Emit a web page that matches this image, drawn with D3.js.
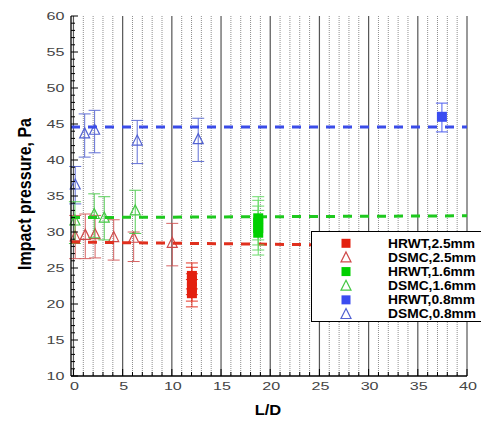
<!DOCTYPE html>
<html>
<head>
<meta charset="utf-8">
<script src="https://cdn.jsdelivr.net/npm/d3@7"></script>
<style>
  html, body { margin: 0; padding: 0; background: #fff; }
  svg { display: block; }
</style>
</head>
<body>
<div id="chart"></div>
<script>
// ---------- data ----------
const xTicks = [0, 5, 10, 15, 20, 25, 30, 35, 40];
const yTicks = [10, 15, 20, 25, 30, 35, 40, 45, 50, 55, 60];

// HRWT (filled squares)
const hrwt25X = [12.04, 12.04, 12.04, 12.04];
const hrwt25Y = [23.9, 23.2, 22.3, 21.5];
const hrwt25Lo = [22.1, 21.3, 20.4, 19.6];
const hrwt25Hi = [25.7, 25.1, 24.2, 23.4];

const hrwt16X = [18.78, 18.78, 18.78, 18.78];
const hrwt16Y = [31.9, 31.3, 30.55, 29.9];
const hrwt16Lo = [28.9, 28.2, 27.5, 26.8];
const hrwt16Hi = [34.9, 34.4, 33.6, 33.0];

const hrwt08X = [37.45];
const hrwt08Y = [46.0];
const hrwt08Lo = [43.9];
const hrwt08Hi = [47.9];

// DSMC (open triangles)
const dsmc25X = [0.18, 1.2, 2.2, 4.09, 6.12, 10.04];
const dsmc25Y = [29.4, 29.6, 29.7, 29.3, 29.2, 28.5];
const dsmc25Lo = [26.3, 26.3, 26.4, 26.1, 25.9, 25.3];
const dsmc25Hi = [32.3, 32.5, 32.3, 31.7, 30.0, 31.2];

const dsmc16X = [0.15, 2.11, 3.13, 6.28];
const dsmc16Y = [31.6, 32.5, 32.0, 33.0];
const dsmc16Lo = [28.4, 29.2, 28.9, 29.8];
const dsmc16Hi = [34.2, 35.3, 34.9, 35.8];

const dsmc08X = [0.18, 1.14, 2.15, 6.48, 12.68];
const dsmc08Y = [36.6, 43.7, 44.2, 42.7, 42.9];
const dsmc08Lo = [33.9, 40.4, 41.0, 39.5, 39.8];
const dsmc08Hi = [39.1, 46.4, 46.9, 45.5, 45.8];

// dashed mean lines: [value at x start, value at x end]
const lineX = [-0.25, 40];
const red25Line = [28.6, 28.0];
const green16Line = [32.0, 32.25];
const blue08Line = [44.6, 44.6];

const legendLabels = ["HRWT,2.5mm", "DSMC,2.5mm", "HRWT,1.6mm", "DSMC,1.6mm", "HRWT,0.8mm", "DSMC,0.8mm"];

// ---------- setup ----------
const W = 481, H = 421;
const svg = d3.select("#chart").append("svg").attr("width", W).attr("height", H);

const x = d3.scaleLinear().domain([-0.25, 40]).range([71, 467]);
const y = d3.scaleLinear().domain([10, 60]).range([376, 16]);

const C = {
  redH: "#e3200f", redD: "#cf4a4a", redL: "#e0301e",
  greenH: "#00d000", greenD: "#45c845", greenL: "#1ec81e",
  blueH: "#3a4cf0", blueD: "#5262d2", blueL: "#3a4ce8"
};

// ---------- grid ----------
const grid = svg.append("g");
const minor = d3.range(0, 41).filter(v => v % 5 !== 0);
grid.selectAll("line.minor").data(minor).enter().append("line")
  .attr("x1", d => x(d)).attr("x2", d => x(d))
  .attr("y1", y(60)).attr("y2", y(10))
  .attr("stroke", "#333").attr("stroke-width", 1).attr("stroke-dasharray", "1,1").attr("opacity", 0.55);
grid.selectAll("line.major").data(xTicks).enter().append("line")
  .attr("x1", d => x(d)).attr("x2", d => x(d))
  .attr("y1", y(60)).attr("y2", y(10))
  .attr("stroke", "#555").attr("stroke-width", 1.2);

// ---------- dashed lines ----------
function dashLine(vals, color) {
  svg.append("line")
    .attr("x1", x(lineX[0])).attr("x2", x(lineX[1]))
    .attr("y1", y(vals[0])).attr("y2", y(vals[1]))
    .attr("stroke", color).attr("stroke-width", 3).attr("stroke-dasharray", "9,8");
}

// ---------- error bars + markers ----------
function errBars(X, Lo, Hi, color, opacity) {
  const g = svg.append("g").attr("stroke", color).attr("stroke-width", 1).attr("opacity", opacity);
  X.forEach((xv, i) => {
    g.append("line").attr("x1", x(xv)).attr("x2", x(xv)).attr("y1", y(Lo[i])).attr("y2", y(Hi[i]));
    g.append("line").attr("x1", x(xv) - 6).attr("x2", x(xv) + 6).attr("y1", y(Lo[i])).attr("y2", y(Lo[i]));
    g.append("line").attr("x1", x(xv) - 6).attr("x2", x(xv) + 6).attr("y1", y(Hi[i])).attr("y2", y(Hi[i]));
  });
}
function squares(X, Y, color) {
  svg.append("g").selectAll("rect").data(X).enter().append("rect")
    .attr("x", (d) => x(d) - 5).attr("y", (d, i) => y(Y[i]) - 5)
    .attr("width", 10).attr("height", 10).attr("fill", color);
}
const triPath = (cx, cy, s) => `M${cx},${cy - s * 0.55}L${cx + s / 2},${cy + s * 0.45}L${cx - s / 2},${cy + s * 0.45}Z`;
function triangles(X, Y, color) {
  svg.append("g").selectAll("path").data(X).enter().append("path")
    .attr("d", (d, i) => triPath(x(d), y(Y[i]), 10))
    .attr("fill", "none").attr("stroke", color).attr("stroke-width", 1.2);
}

errBars(dsmc08X, dsmc08Lo, dsmc08Hi, C.blueD, 0.9);
triangles(dsmc08X, dsmc08Y, C.blueD);
errBars(dsmc25X, dsmc25Lo, dsmc25Hi, C.redD, 0.85);
triangles(dsmc25X, dsmc25Y, C.redD);
errBars(dsmc16X, dsmc16Lo, dsmc16Hi, C.greenD, 0.9);
triangles(dsmc16X, dsmc16Y, C.greenD);

dashLine(blue08Line, C.blueL);
dashLine(green16Line, C.greenL);
dashLine(red25Line, C.redL);

errBars(hrwt25X, hrwt25Lo, hrwt25Hi, C.redH, 0.9);
squares(hrwt25X, hrwt25Y, C.redH);
errBars(hrwt16X, hrwt16Lo, hrwt16Hi, "#5ad85a", 0.9);
squares(hrwt16X, hrwt16Y, C.greenH);
errBars(hrwt08X, hrwt08Lo, hrwt08Hi, C.blueH, 0.9);
squares(hrwt08X, hrwt08Y, C.blueH);

// ---------- axes ----------
const ax = svg.append("g");
ax.append("line").attr("x1", 71).attr("x2", 71).attr("y1", y(60)).attr("y2", y(10)).attr("stroke", "#000").attr("stroke-width", 1.3);
ax.append("line").attr("x1", 71).attr("x2", x(40)).attr("y1", y(10)).attr("y2", y(10)).attr("stroke", "#000").attr("stroke-width", 1.3);
// y ticks (inward)
const yAll = d3.range(10, 61);
ax.selectAll("line.yt").data(yAll).enter().append("line")
  .attr("x1", 71).attr("x2", d => 71 + (d % 5 === 0 ? 7 : 4))
  .attr("y1", d => y(d)).attr("y2", d => y(d))
  .attr("stroke", "#000").attr("stroke-width", 1);
// x ticks (inward)
ax.selectAll("line.xt").data(d3.range(0, 41)).enter().append("line")
  .attr("x1", d => x(d)).attr("x2", d => x(d))
  .attr("y1", y(10)).attr("y2", d => y(10) - (d % 5 === 0 ? 7 : 4))
  .attr("stroke", "#000").attr("stroke-width", 1);

// tick labels
const tickFont = "'Liberation Sans', Arial, sans-serif";
ax.selectAll("text.yl").data(yTicks).enter().append("text")
  .attr("transform", d => `translate(64.5,${y(d)}) scale(1.4,1)`)
  .attr("dy", "0.36em").attr("text-anchor", "end")
  .attr("font-family", tickFont).attr("font-size", 11.5).attr("fill", "#444")
  .text(d => d);
ax.selectAll("text.xl").data(xTicks).enter().append("text")
  .attr("transform", d => `translate(${x(d) + 1},386) scale(1.4,1)`)
  .attr("dy", "0.36em").attr("text-anchor", "middle")
  .attr("font-family", tickFont).attr("font-size", 11.5).attr("fill", "#444")
  .text(d => d);

// axis titles
svg.append("text")
  .attr("transform", "translate(24,194) scale(1.15,1) rotate(-90)")
  .attr("dy", "0.36em").attr("text-anchor", "middle")
  .attr("font-family", tickFont).attr("font-weight", "bold").attr("font-size", 16)
  .attr("fill", "#000").text("Impact pressure, Pa");
svg.append("text")
  .attr("transform", "translate(268,410) scale(1.1,1)")
  .attr("dy", "0.36em").attr("text-anchor", "middle")
  .attr("font-family", tickFont).attr("font-weight", "bold").attr("font-size", 15)
  .attr("fill", "#000").text("L/D");

// ---------- legend ----------
const lg = svg.append("g");
lg.append("rect").attr("x", 311.5).attr("y", 231.5).attr("width", 200).attr("height", 90)
  .attr("fill", "#fff").attr("stroke", "#000").attr("stroke-width", 1);
const legendColors = [C.redH, C.redD, C.greenH, C.greenD, C.blueH, C.blueD];
const legendRowY = d3.scalePoint().domain(d3.range(6)).range([243.3, 314]);
legendLabels.forEach((lab, i) => {
  const cy = legendRowY(i), cx = 346;
  if (i % 2 === 0) {
    lg.append("rect").attr("x", cx - 4.5).attr("y", cy - 4.5).attr("width", 9).attr("height", 9).attr("fill", legendColors[i]);
  } else {
    lg.append("path").attr("d", triPath(cx, cy, 10)).attr("fill", "none").attr("stroke", legendColors[i]).attr("stroke-width", 1.2);
  }
  lg.append("text")
    .attr("transform", `translate(388,${cy}) scale(1.15,1)`)
    .attr("dy", "0.36em")
    .attr("font-family", tickFont).attr("font-weight", "bold").attr("font-size", 12)
    .attr("fill", "#000").text(lab);
});
</script>
</body>
</html>
